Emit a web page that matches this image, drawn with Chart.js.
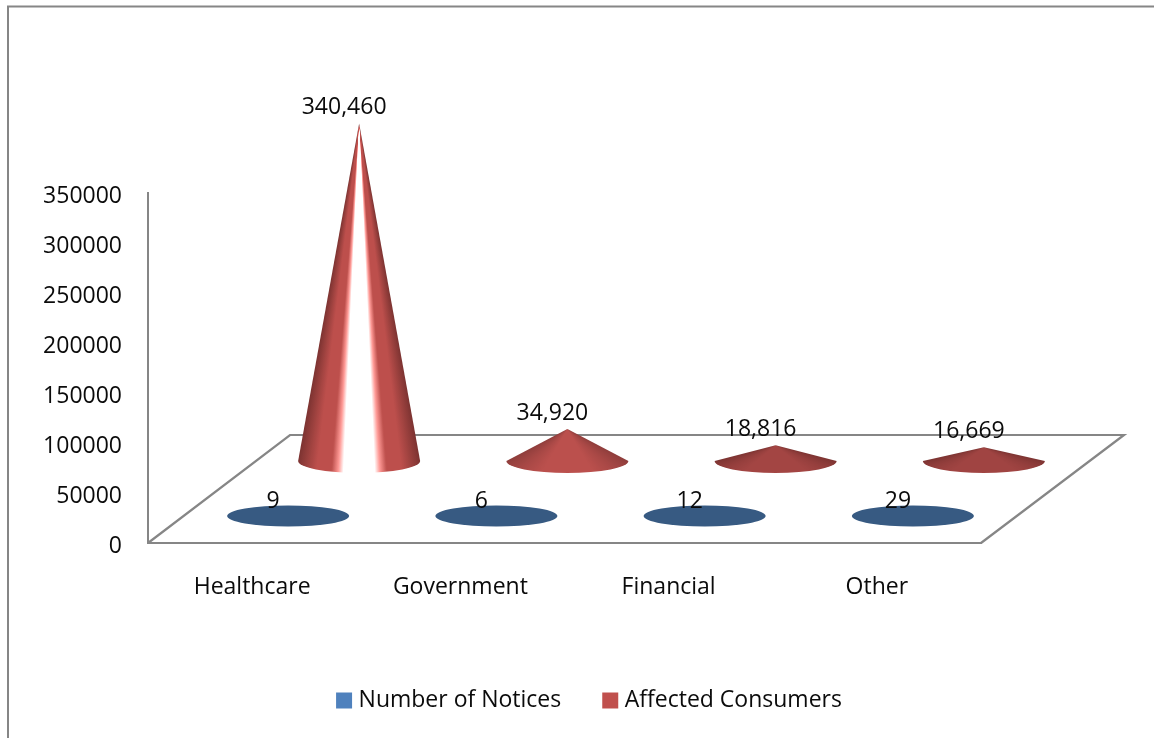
<!DOCTYPE html>
<html><head><meta charset="utf-8">
<style>html,body{margin:0;padding:0;background:#fff;overflow:hidden}canvas{display:block}</style>
<script src="https://cdn.jsdelivr.net/npm/chart.js@4"></script>
</head><body><canvas id="c" width="1154" height="738"></canvas>
<script>
const categories = ['Healthcare', 'Government', 'Financial', 'Other'];
const numberOfNotices = [9, 6, 12, 29];
const affectedConsumers = [340460, 34920, 18816, 16669];
const yTicksStep = 50000;
const yMax = 350000;

const FONT = '"Open Sans", sans-serif';
const GREY = '#868686';
const TEXT = '#0b0b0b';
const RX = 61;

// lighting of each red cone: edge colour, body colour, specular band
const redTones = [
  {edge:'#7c3331', mid:'#bd4f4c', glare:true},
  {edge:'#8e3d3b', mid:'#bb504d', glare:false},
  {edge:'#7b3331', mid:'#a34543', glare:false},
  {edge:'#7b3331', mid:'#a04442', glare:false}
];
function lerp(a,b,t){
  const p=s=>[1,3,5].map(i=>parseInt(s.substr(i,2),16));
  const A=p(a),B=p(b);
  return 'rgb('+A.map((v,i)=>Math.round(v+(B[i]-v)*t)).join(',')+')';
}
function shade(u,tone){
  const w=Math.abs(u);
  if(tone.glare){
    if(w<0.25) return '#ffffff';
    if(w<0.33) return lerp('#ffffff','#ff9a96',(w-0.25)/0.08);
    if(w<0.44) return lerp('#ff9a96',tone.mid,(w-0.33)/0.11);
    if(w<0.68) return tone.mid;
    return lerp(tone.mid,tone.edge,(w-0.68)/0.32);
  }
  return w<0.3?tone.mid:lerp(tone.mid,tone.edge,(w-0.3)/0.7);
}

class ConeController extends Chart.BarController {
  draw(){
    const ctx=this.chart.ctx, ds=this.getDataset(), meta=this.getMeta();
    meta.data.forEach((bar,i)=>{
      const cx=bar.x+ds.depthX, cy=bar.base-ds.depthY, ry=ds.ry;
      const h=bar.base-bar.y;
      ctx.save();
      if(h<3){
        ctx.fillStyle=ds.topColor;
        ctx.beginPath();ctx.ellipse(cx,cy,RX,ry,0,0,Math.PI*2);ctx.fill();
      }else{
        const apex=cy+3-h, H=cy-apex, a=Math.atan(RX/H), start=Math.PI/2-a;
        const g=ctx.createConicGradient(start,cx,apex);
        for(let k=0;k<=120;k++){
          const u=1-k/60;
          g.addColorStop((a-Math.atan(u*RX/H))/(2*Math.PI),shade(u,redTones[i]));
        }
        ctx.fillStyle=g;
        ctx.beginPath();
        ctx.moveTo(cx,apex);
        ctx.lineTo(cx+RX,cy);
        ctx.ellipse(cx,cy,RX,ry,0,0,Math.PI);
        ctx.closePath();
        ctx.fill();
      }
      ctx.restore();
    });
  }
}
ConeController.id='cone';
ConeController.defaults=Object.assign({},Chart.BarController.defaults);
Chart.register(ConeController);

const frame3d={
  id:'frame3d',
  beforeDraw(chart){
    const c=chart.ctx;
    c.save();c.strokeStyle=GREY;c.lineWidth=2;
    c.beginPath();c.moveTo(8,738);c.lineTo(8,6.5);c.lineTo(1154,6.5);c.stroke();
    c.restore();
  },
  beforeDatasetsDraw(chart){
    const a=chart.chartArea,c=chart.ctx;
    c.save();c.strokeStyle=GREY;c.lineWidth=2.2;c.lineJoin='miter';
    c.beginPath();
    c.moveTo(a.left,a.bottom);c.lineTo(a.left+142,a.bottom-108);
    c.lineTo(a.right+143,a.bottom-108);c.lineTo(a.right,a.bottom);
    c.stroke();c.restore();
  },
  afterDatasetsDraw(chart){
    const c=chart.ctx;
    c.save();c.fillStyle=TEXT;c.font='23px '+FONT;c.textAlign='center';c.textBaseline='middle';
    chart.data.datasets.forEach((ds,d)=>{
      chart.getDatasetMeta(d).data.forEach((bar,i)=>{
        const cx=bar.x+ds.depthX, cy=bar.base-ds.depthY, h=bar.base-bar.y;
        const top=h<3?cy+1:cy+3-h;
        c.fillText(ds.data[i].toLocaleString('en-US'),cx-15,top-16);
      });
    });
    c.restore();
  }
};

new Chart(document.getElementById('c'),{
  type:'cone',
  data:{labels:categories,datasets:[
    {label:'Number of Notices',data:numberOfNotices,backgroundColor:'#4f81bd',topColor:'#375a82',depthX:36,depthY:27,ry:10.5,clip:false},
    {label:'Affected Consumers',data:affectedConsumers,backgroundColor:'#c0504d',depthX:107,depthY:82,ry:12,clip:false}
  ]},
  options:{
    responsive:false,animation:false,devicePixelRatio:1,
    grouped:false,
    layout:{padding:{left:29,right:0,top:193,bottom:16}},
    plugins:{
      legend:{position:'bottom',labels:{
        color:TEXT,font:{family:FONT,size:23},padding:46,boxWidth:6,boxHeight:6,
        generateLabels(chart){
          return chart.data.datasets.map((ds,i)=>({text:ds.label,fillStyle:ds.backgroundColor,strokeStyle:ds.backgroundColor,lineWidth:10,datasetIndex:i,fontColor:TEXT}));
        }
      }},
      tooltip:{enabled:false}
    },
    scales:{
      x:{type:'category',offset:true,grid:{display:false,drawTicks:false},
        border:{color:GREY,width:2},
        ticks:{color:TEXT,font:{family:FONT,size:23},padding:31,maxRotation:0},
        afterFit(s){s.height=100;}},
      y:{type:'linear',min:0,max:yMax,position:'left',
        grid:{display:false,drawTicks:false},
        border:{color:GREY,width:2},
        ticks:{stepSize:yTicksStep,color:TEXT,font:{family:FONT,size:23},padding:26,labelOffset:3,callback:v=>String(v)},
        afterFit(s){s.width=119;}},
      yr:{type:'linear',min:0,max:yMax,position:'right',
        grid:{display:false,drawTicks:false},border:{display:false},ticks:{display:false},
        afterFit(s){s.width=173;}}
    }
  },
  plugins:[frame3d]
});
</script></body></html>
